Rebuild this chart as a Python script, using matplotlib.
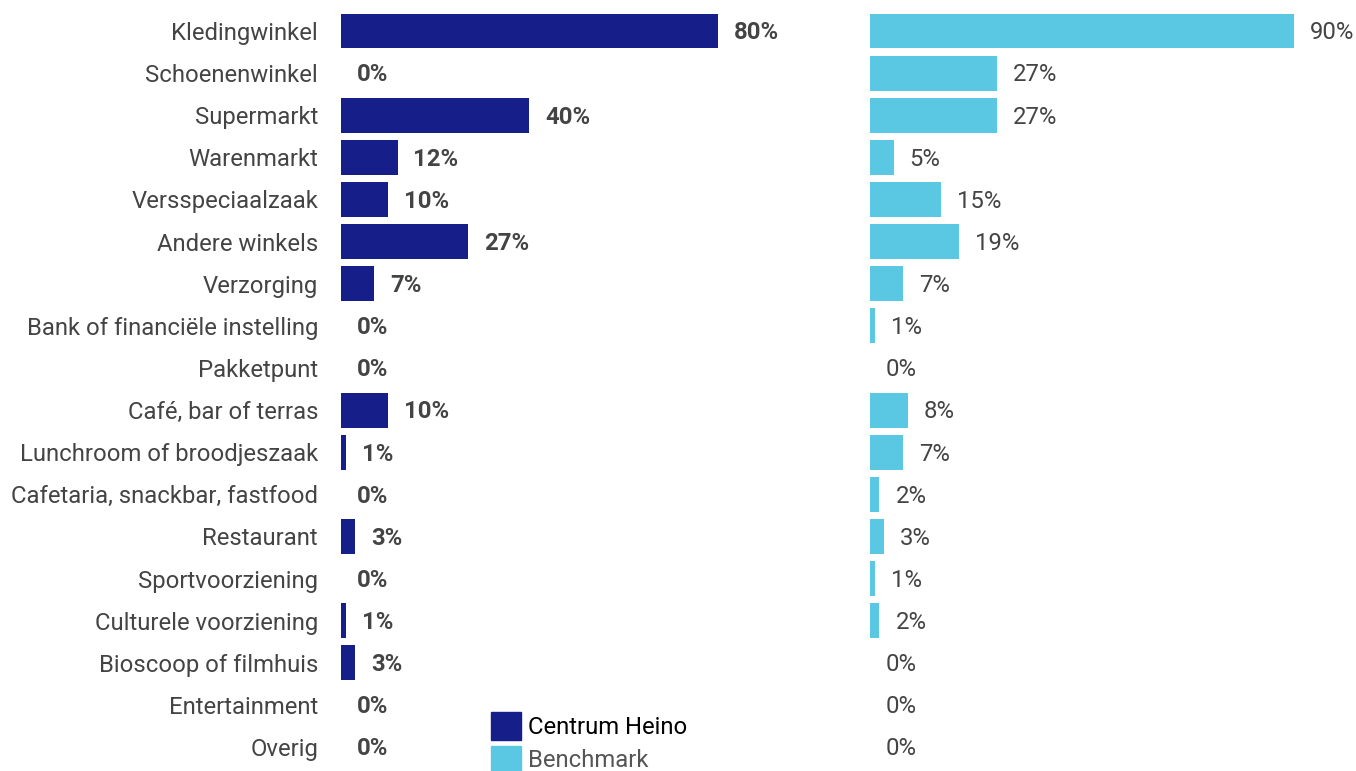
import numpy as np
import matplotlib.pyplot as plt
from matplotlib.patches import Patch

plt.rcParams['font.family'] = ['Roboto', 'DejaVu Sans']

categorieen = ['Kledingwinkel', 'Schoenenwinkel', 'Supermarkt', 'Warenmarkt',
               'Versspeciaalzaak', 'Andere winkels', 'Verzorging',
               'Bank of financiële instelling', 'Pakketpunt', 'Café, bar of terras',
               'Lunchroom of broodjeszaak', 'Cafetaria, snackbar, fastfood',
               'Restaurant', 'Sportvoorziening', 'Culturele voorziening',
               'Bioscoop of filmhuis', 'Entertainment', 'Overig']
heino = [80, 0, 40, 12, 10, 27, 7, 0, 0, 10, 1, 0, 3, 0, 1, 3, 0, 0]
benchmark = [90, 27, 27, 5, 15, 19, 7, 1, 0, 8, 7, 2, 3, 1, 2, 0, 0, 0]

kleur_heino = '#161E8A'
kleur_bench = '#5BC8E3'
tekst = '#444444'
fs = 17.2

fig = plt.figure(figsize=(13.56, 7.71), dpi=100)
W, H = 1356, 771
ax1 = fig.add_axes([341 / W, 0, 471 / W, 1])
ax2 = fig.add_axes([870 / W, 0, 471 / W, 1])

y = np.arange(len(categorieen))
rij = 42.12
ylim = ((771 - 31) / rij, -31 / rij)

for ax, waarden, kleur, vet in [(ax1, heino, kleur_heino, 'bold'),
                                 (ax2, benchmark, kleur_bench, 'normal')]:
    ax.barh(y, waarden, height=0.83, color=kleur)
    ax.set_xlim(0, 100)
    ax.set_ylim(*ylim)
    for yi, v in zip(y, waarden):
        ax.annotate(f'{v}%', (v, yi), xytext=(11.5, -1.3), textcoords='offset points',
                    ha='left', va='center', fontsize=fs, color=tekst,
                    fontweight=vet, annotation_clip=False)
    ax.set_xticks([])
    for s in ax.spines.values():
        s.set_visible(False)

ax1.set_yticks(y)
ax1.set_yticklabels(categorieen, fontsize=fs, color=tekst)
ax1.tick_params(axis='y', length=0, pad=16.5)
ax2.set_yticks([])

handles = [Patch(color=kleur_heino), Patch(color=kleur_bench)]
leg = fig.legend(handles, ['Centrum Heino', 'Benchmark'], loc='upper left',
                 bbox_to_anchor=(479 / W, 1 - 700 / H), frameon=False,
                 fontsize=fs, handlelength=1.27, handleheight=1.4,
                 labelspacing=0.26, handletextpad=0.3, borderpad=0)
leg.get_texts()[0].set_color('black')
leg.get_texts()[1].set_color('#555555')

fig.savefig('out.png', dpi=100)
